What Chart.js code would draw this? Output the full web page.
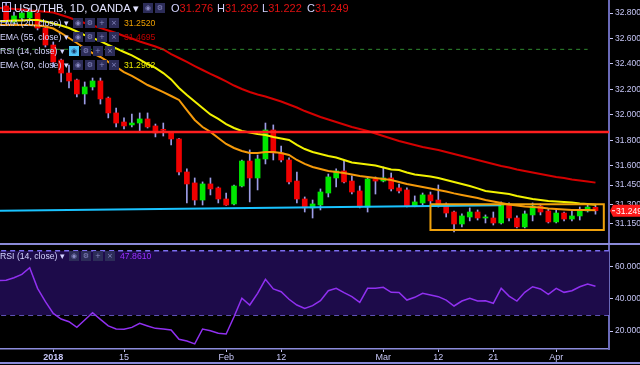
<!DOCTYPE html>
<html><head><meta charset="utf-8">
<script src="https://cdn.jsdelivr.net/npm/chart.js@4.4.0/dist/chart.umd.min.js"></script>
<style>
html,body{margin:0;padding:0;background:#000;width:640px;height:365px;overflow:hidden}
#wrap{position:relative;width:640px;height:365px;background:#000}
canvas{position:absolute;left:0}
#pc{top:0}
#rc{top:245px}
.sep{position:absolute;left:0;width:640px;background:#8a8ad8}
.tx{position:absolute;white-space:nowrap;font-family:"Liberation Sans",Arial,sans-serif;color:#d4d4ff;font-size:8.7px;line-height:12px}
.hl{font-size:11px;line-height:14px}
.hl b{font-weight:normal;color:#d4d4ff}
.hl i{font-style:normal;color:#e01010}
.ib{position:absolute;width:10px;height:10px;background:#2c2c58;color:#8a8ac4;font-family:"DejaVu Sans",sans-serif;font-size:7px;line-height:10px;text-align:center}
.sq{position:absolute;width:7px;height:8px;border:1px solid #c0c0f0}
</style></head>
<body><div id="wrap">
<canvas id="pc" width="640" height="244"></canvas>
<div class="sep" style="top:243px;height:2px"></div>
<canvas id="rc" width="640" height="120"></canvas>
<div class="sep" style="top:362px;height:1.5px"></div>

<div class="sq" style="left:2px;top:2px"></div>
<span class="tx" style="left:14px;top:1px;font-size:11.3px;line-height:14px;color:#e2e2ff">USD/THB, 1D, OANDA ▾</span>
<span class="ib" style="left:143px;top:3px">◉</span><span class="ib" style="left:155px;top:3px">⚙</span>
<span class="tx hl" style="left:171px;top:1px"><b>O</b><i id="vO"></i></span>
<span class="tx hl" style="left:217px;top:1px"><b>H</b><i id="vH"></i></span>
<span class="tx hl" style="left:262px;top:1px"><b>L</b><i id="vL"></i></span>
<span class="tx hl" style="left:307px;top:1px"><b>C</b><i id="vC"></i></span>

<span class="tx" style="left:0;top:17px">EMA (20, close) ▾</span>
<span class="ib" style="left:73px;top:18px">◉</span><span class="ib" style="left:85px;top:18px">⚙</span><span class="ib" style="left:97px;top:18px">+</span><span class="ib" style="left:109px;top:18px">×</span>
<span class="tx" id="v20" style="left:124px;top:17px;color:#f0a000"></span>

<span class="tx" style="left:0;top:31px">EMA (55, close) ▾</span>
<span class="ib" style="left:73px;top:32px">◉</span><span class="ib" style="left:85px;top:32px">⚙</span><span class="ib" style="left:97px;top:32px">+</span><span class="ib" style="left:109px;top:32px">×</span>
<span class="tx" id="v55" style="left:124px;top:31px;color:#c00000"></span>

<span class="tx" style="left:0;top:45px">RSI (14, close) ▾</span>
<span class="ib" style="left:69px;top:46px;background:#4fc3f7;color:#1a3a6a">◉</span><span class="ib" style="left:81px;top:46px">⚙</span><span class="ib" style="left:93px;top:46px">+</span><span class="ib" style="left:105px;top:46px">×</span>

<span class="tx" style="left:0;top:59px">EMA (30, close) ▾</span>
<span class="ib" style="left:73px;top:60px">◉</span><span class="ib" style="left:85px;top:60px">⚙</span><span class="ib" style="left:97px;top:60px">+</span><span class="ib" style="left:109px;top:60px">×</span>
<span class="tx" id="v30" style="left:124px;top:59px;color:#e8e800"></span>

<span class="tx" style="left:0;top:250px">RSI (14, close) ▾</span>
<span class="ib" style="left:69px;top:251px">◉</span><span class="ib" style="left:81px;top:251px">⚙</span><span class="ib" style="left:93px;top:251px">+</span><span class="ib" style="left:105px;top:251px">×</span>
<span class="tx" id="vR" style="left:120px;top:250px;color:#9b30ff"></span>
</div>
<script>
// trading-day index: 0 = 2 Jan 2018
const candleStart = -6;
const lineStart = -7;
const opens  = [32.855,32.729,32.761,32.761,32.800,32.682,32.549,32.431,32.329,32.275,32.165,32.220,32.267,32.133,32.016,31.945,31.922,31.937,31.969,31.914,31.884,31.859,31.812,31.553,31.467,31.333,31.459,31.428,31.341,31.302,31.443,31.639,31.506,31.655,31.882,31.702,31.647,31.482,31.341,31.271,31.294,31.388,31.506,31.561,31.482,31.404,31.278,31.498,31.482,31.506,31.428,31.412,31.286,31.310,31.373,31.333,31.302,31.239,31.145,31.200,31.239,31.192,31.192,31.153,31.302,31.192,31.122,31.216,31.286,31.247,31.161,31.231,31.184,31.208,31.247,31.276];
const highs  = [32.878,32.808,32.824,32.839,32.824,32.698,32.573,32.439,32.392,32.282,32.259,32.290,32.290,32.141,32.055,31.977,32.008,32.016,32.016,31.929,31.937,31.867,31.816,31.577,31.506,31.475,31.506,31.435,31.388,31.451,31.647,31.726,31.686,31.937,31.922,31.757,31.663,31.553,31.357,31.333,31.420,31.537,31.577,31.647,31.522,31.443,31.514,31.514,31.592,31.545,31.459,31.428,31.365,31.388,31.396,31.451,31.310,31.247,31.224,31.271,31.255,31.216,31.239,31.318,31.310,31.208,31.247,31.310,31.302,31.263,31.263,31.239,31.255,31.278,31.294,31.292];
const lows   = [32.714,32.706,32.745,32.745,32.667,32.533,32.377,32.259,32.212,32.141,32.086,32.196,32.086,31.977,31.906,31.890,31.906,31.875,31.898,31.828,31.835,31.765,31.529,31.310,31.294,31.294,31.373,31.310,31.290,31.294,31.435,31.318,31.412,31.616,31.647,31.631,31.459,31.310,31.239,31.192,31.255,31.357,31.435,31.467,31.380,31.271,31.239,31.380,31.475,31.404,31.388,31.278,31.280,31.294,31.302,31.278,31.200,31.082,31.122,31.169,31.176,31.153,31.137,31.145,31.169,31.114,31.114,31.169,31.216,31.153,31.153,31.169,31.169,31.176,31.239,31.222];
const closes = [32.745,32.777,32.800,32.808,32.682,32.549,32.416,32.329,32.267,32.165,32.220,32.267,32.126,32.016,31.937,31.914,31.937,31.969,31.906,31.859,31.880,31.812,31.553,31.459,31.333,31.459,31.420,31.341,31.294,31.443,31.639,31.506,31.655,31.882,31.702,31.647,31.475,31.341,31.271,31.302,31.396,31.514,31.561,31.475,31.396,31.278,31.498,31.482,31.506,31.420,31.404,31.286,31.318,31.373,31.326,31.302,31.231,31.145,31.208,31.239,31.192,31.200,31.153,31.302,31.192,31.122,31.224,31.286,31.239,31.161,31.231,31.184,31.208,31.247,31.278,31.249];
const ema20 = [32.706,32.706,32.706,32.706,32.706,32.702,32.694,32.678,32.643,32.604,32.565,32.522,32.486,32.455,32.416,32.377,32.337,32.306,32.271,32.235,32.208,32.180,32.149,32.118,32.039,31.961,31.906,31.867,31.820,31.773,31.741,31.718,31.702,31.702,31.710,31.710,31.702,31.686,31.647,31.616,31.592,31.577,31.561,31.553,31.545,31.533,31.522,31.514,31.506,31.498,31.490,31.475,31.459,31.447,31.435,31.424,31.412,31.400,31.385,31.373,31.361,31.349,31.333,31.322,31.310,31.298,31.290,31.282,31.278,31.275,31.267,31.263,31.259,31.255,31.255,31.255,31.2520];
const ema30 = [32.737,32.737,32.741,32.741,32.745,32.745,32.733,32.718,32.702,32.682,32.655,32.627,32.604,32.580,32.549,32.522,32.494,32.467,32.435,32.400,32.369,32.329,32.279,32.212,32.157,32.106,32.055,32.004,31.969,31.929,31.898,31.875,31.863,31.851,31.843,31.828,31.816,31.804,31.765,31.733,31.710,31.694,31.679,31.667,31.647,31.628,31.620,31.612,31.604,31.588,31.573,31.569,31.549,31.533,31.526,31.518,31.506,31.490,31.475,31.459,31.443,31.424,31.404,31.396,31.388,31.380,31.365,31.353,31.341,31.333,31.326,31.322,31.318,31.314,31.306,31.302,31.2962];
const ema55 = [32.839,32.837,32.831,32.827,32.820,32.816,32.810,32.804,32.784,32.765,32.741,32.722,32.702,32.682,32.663,32.643,32.620,32.600,32.577,32.557,32.537,32.514,32.478,32.447,32.416,32.384,32.353,32.322,32.294,32.263,32.231,32.204,32.180,32.161,32.145,32.126,32.106,32.082,32.059,32.031,32.008,31.984,31.965,31.945,31.926,31.906,31.890,31.875,31.855,31.835,31.816,31.796,31.780,31.765,31.749,31.737,31.726,31.710,31.694,31.679,31.663,31.647,31.631,31.616,31.600,31.588,31.573,31.561,31.549,31.537,31.526,31.514,31.506,31.494,31.486,31.478,31.4695];
const rsi = [51.5,51.6,53.2,55.3,59.4,46.6,38.3,31.0,27.5,25.8,22.3,26.9,31.4,27.3,23.2,21.3,21.1,22.3,24.8,23.2,21.7,21.3,20.7,14.9,13.8,12.0,21.3,20.2,18.6,18.2,28.9,40.4,36.2,43.5,52.2,46.2,44.5,39.8,36.2,34.1,35.8,38.9,45.1,46.6,43.9,41.4,37.9,46.6,46.6,47.2,44.1,44.0,39.3,41.0,43.5,42.4,41.4,39.3,35.6,38.7,40.4,38.7,38.9,37.3,46.6,41.8,38.7,44.1,47.6,46.2,42.9,46.6,44.1,45.1,47.6,49.3,47.861];

const xTickIdx = [0, 9, 22, 29, 42, 49, 56, 64];
const xTickLabels = ['2018', '15', 'Feb', '12', 'Mar', '12', '21', 'Apr'];
const priceTicks = [32.8, 32.6, 32.4, 32.2, 32.0, 31.8, 31.6, 31.45, 31.3, 31.15];
const rsiTicks = [20, 40, 60];
const rsiBands = [70, 30];

const resistanceLevel = 31.867;
const dashedLevel = 32.515;
const dashedEnd = 68;
const supportLine = [[-7, 31.248], [57, 31.292]];
const boxIdx = [48, 70.06];
const boxPrice = [31.098, 31.300];

const X_MIN = -6.78, X_MAX = 70.72;
const P_MIN = 30.988, P_MAX = 32.902;
const R_MIN = 8.85, R_MAX = 73.55;

const FONT = '"Liberation Sans", Arial, sans-serif';
const AX = '#c6c6f6';

const last = closes.length - 1;
document.getElementById('vO').textContent = opens[last].toFixed(3);
document.getElementById('vH').textContent = highs[last].toFixed(3);
document.getElementById('vL').textContent = lows[last].toFixed(3);
document.getElementById('vC').textContent = closes[last].toFixed(3);
document.getElementById('v20').textContent = ema20[ema20.length-1].toFixed(4);
document.getElementById('v55').textContent = ema55[ema55.length-1].toFixed(4);
document.getElementById('v30').textContent = ema30[ema30.length-1].toFixed(4);
document.getElementById('vR').textContent = rsi[rsi.length-1].toFixed(4);

const wicks = highs.map((h, i) => ({x: i + candleStart, y: [lows[i], h]}));
const bodies = opens.map((o, i) => ({x: i + candleStart, y: [o, closes[i]]}));
const bodyColors = opens.map((o, i) => closes[i] >= o ? '#00e600' : '#f00000');
const linePts = arr => arr.map((v, i) => ({x: i + lineStart, y: v}));

const lineDs = (data, color, width, order, extra) => Object.assign({
  type: 'line', data, borderColor: color, borderWidth: width, pointRadius: 0,
  fill: false, tension: 0, order
}, extra || {});

const lastLabel = {
  id: 'lastLabel',
  afterDraw(chart) {
    const ctx = chart.ctx;
    const y = chart.scales.y.getPixelForValue(closes[last]);
    const x0 = chart.chartArea.right + 1;
    ctx.save();
    ctx.fillStyle = '#ff1a1a';
    ctx.beginPath();
    ctx.moveTo(x0, y); ctx.lineTo(x0 + 3, y - 6); ctx.lineTo(640, y - 6);
    ctx.lineTo(640, y + 6); ctx.lineTo(x0 + 3, y + 6); ctx.closePath(); ctx.fill();
    ctx.fillStyle = '#ffffff';
    ctx.fillRect(x0 + 2, y - 0.5, 3, 1);
    ctx.font = '8.5px ' + FONT;
    ctx.textBaseline = 'middle';
    ctx.fillText(closes[last].toFixed(3), x0 + 6, y + 0.5);
    ctx.restore();
  }
};

const yAxisBase = (min, max, ticksArr, digits) => ({
  position: 'right', min, max,
  afterBuildTicks: a => { a.ticks = ticksArr.map(v => ({value: v})); },
  afterFit: s => { s.width = 31; s.paddingTop = 0; s.paddingBottom = 0; },
  ticks: {color: AX, font: {family: FONT, size: 8.5}, padding: 2, autoSkip: false,
          callback: v => Number(v).toFixed(digits)},
  grid: {drawOnChartArea: false, drawTicks: true, tickLength: 4, color: AX},
  border: {display: true, color: '#6a6ab8', width: 2}
});

new Chart(document.getElementById('pc'), {
  type: 'bar',
  data: {datasets: [
    lineDs([{x: boxIdx[0], y: boxPrice[1]}, {x: boxIdx[1], y: boxPrice[1]}, {x: boxIdx[1], y: boxPrice[0]}, {x: boxIdx[0], y: boxPrice[0]}, {x: boxIdx[0], y: boxPrice[1]}], '#f0a20c', 2, 0),
    lineDs([{x: X_MIN - 1, y: resistanceLevel}, {x: X_MAX + 1, y: resistanceLevel}], '#ff1f1f', 2.5, 0),
    lineDs(supportLine.map(p => ({x: p[0], y: p[1]})), '#19c3ff', 2, 0),
    lineDs([{x: X_MIN - 1, y: dashedLevel}, {x: dashedEnd, y: dashedLevel}], '#2f8a2f', 1, 0, {borderDash: [4, 4]}),
    lineDs(linePts(ema55), '#d40000', 2, 1),
    lineDs(linePts(ema30), '#f2f200', 2, 1),
    lineDs(linePts(ema20), '#f59a0a', 2, 1),
    {type: 'bar', data: bodies, backgroundColor: bodyColors, barThickness: 5, grouped: false, minBarLength: 1, borderWidth: 0, order: 2},
    {type: 'bar', data: wicks, backgroundColor: '#9c9ce6', barThickness: 1, grouped: false, borderWidth: 0, order: 3}
  ]},
  options: {
    responsive: false, animation: false, events: [],
    layout: {padding: 0},
    plugins: {legend: {display: false}, tooltip: {enabled: false}},
    scales: {
      x: {type: 'linear', min: X_MIN, max: X_MAX, offset: false, display: false, grid: {offset: false}},
      y: yAxisBase(P_MIN, P_MAX, priceTicks, 3)
    }
  },
  plugins: [lastLabel]
});

new Chart(document.getElementById('rc'), {
  type: 'line',
  data: {datasets: [
    lineDs(linePts(rsi), '#9030f0', 1.5, 0),
    lineDs([{x: X_MIN - 1, y: rsiBands[0]}, {x: X_MAX + 1, y: rsiBands[0]}], '#7d6ef0', 1.5, 1, {borderDash: [5, 4], fill: '+1', backgroundColor: '#1d0b4a'}),
    lineDs([{x: X_MIN - 1, y: rsiBands[1]}, {x: X_MAX + 1, y: rsiBands[1]}], '#7d6ef0', 1.5, 1, {borderDash: [5, 4]})
  ]},
  options: {
    responsive: false, animation: false, events: [],
    layout: {padding: 0},
    plugins: {legend: {display: false}, tooltip: {enabled: false}},
    scales: {
      x: {type: 'linear', min: X_MIN, max: X_MAX, offset: false,
          afterBuildTicks: a => { a.ticks = xTickIdx.map(v => ({value: v})); },
          afterFit: s => { s.height = 16; s.paddingLeft = 0; s.paddingRight = 0; },
          ticks: {color: AX, padding: 0, autoSkip: false, maxRotation: 0,
                  font: c => ({family: FONT, size: 9, weight: (c.tick && c.tick.value === 0) ? 'bold' : 'normal'}),
                  callback: v => xTickLabels[xTickIdx.indexOf(v)]},
          grid: {drawOnChartArea: false, tickLength: 3, color: AX, offset: false},
          border: {display: true, color: '#8c8cdc', width: 1.5}},
      y: yAxisBase(R_MIN, R_MAX, rsiTicks, 4)
    }
  }
});
</script>
</body></html>
